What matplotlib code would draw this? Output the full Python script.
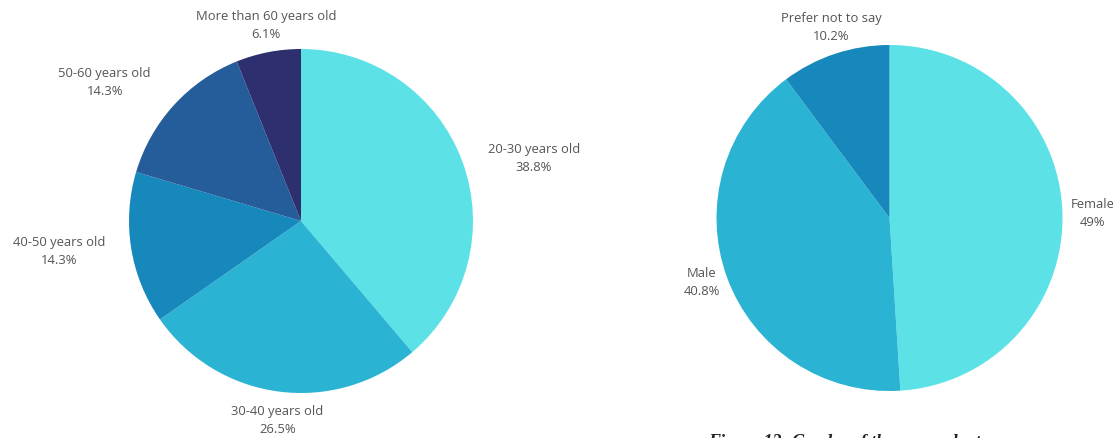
import numpy as np
import matplotlib
matplotlib.use("Agg")
import matplotlib.pyplot as plt

plt.rcParams['font.family'] = ['Open Sans', 'DejaVu Sans']

age_labels = ["20-30 years old", "30-40 years old", "40-50 years old",
              "50-60 years old", "More than 60 years old"]
age_pct = [38.8, 26.5, 14.3, 14.3, 6.1]
age_colors = ["#5ce1e6", "#2bb3d4", "#1788bb", "#255d9a", "#2e2f6e"]

gender_labels = ["Female", "Male", "Prefer not to say"]
gender_pct = [49, 40.8, 10.2]
gender_colors = ["#5ce1e6", "#2bb3d4", "#1788bb"]

W, H = 1113, 439
fig = plt.figure(figsize=(W / 100, H / 100), dpi=100)


def pie_axes(cx, cy, r):
    # square axes (in pixels) whose unit circle sits at cx, cy with radius r
    return fig.add_axes([(cx - r) / W, (H - cy - r) / H, 2 * r / W, 2 * r / H])


def draw_pie(ax, labels, values, colors, push=0):
    ax.pie(values, colors=colors, startangle=90, counterclock=False,
           radius=1, wedgeprops=dict(linewidth=0))
    ax.set_xlim(-1, 1)
    ax.set_ylim(-1, 1)
    ax.set_aspect('auto')
    ax.axis('off')

    total = sum(values)
    start = 90.0
    for lab, v in zip(labels, values):
        sweep = v / total * 360
        mid = np.deg2rad(start - sweep / 2)
        start -= sweep
        c, s = np.cos(mid), np.sin(mid)
        ha = 'left' if c > 0.5 else ('right' if c < -0.5 else 'center')
        va = 'bottom' if s > 0.5 else ('top' if s < -0.5 else 'center')
        dx = np.sign(c) * push if abs(c) > 0.5 else 0
        ax.annotate(f"{lab}\n{v:g}%", xy=(1.07 * c, 1.07 * s),
                    xytext=(dx, 0), textcoords='offset pixels',
                    ha=ha, va=va, multialignment='center', fontsize=9.4,
                    color='#555555', linespacing=1.5, annotation_clip=False)


ax1 = pie_axes(301, 222, 172)
draw_pie(ax1, age_labels, age_pct, age_colors, push=14)

ax2 = pie_axes(889.5, 219, 173)
draw_pie(ax2, gender_labels, gender_pct, gender_colors, push=-4)

fig.text(708 / W, 1 - 434 / H, "Figure 13: Gender of the respondents",
         ha='left', va='top', fontsize=13, fontweight='bold', style='italic',
         family='Liberation Serif', color='#222222')

fig.savefig("out.png", dpi=100)
